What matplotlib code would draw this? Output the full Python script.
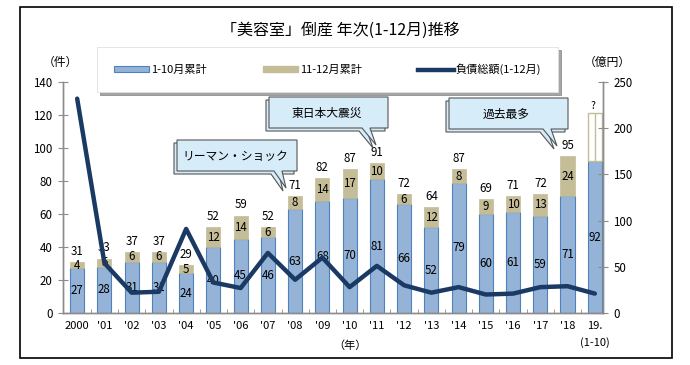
import matplotlib
matplotlib.use('Agg')
import matplotlib.pyplot as plt
from matplotlib.patches import Patch, Polygon, Rectangle
from matplotlib.lines import Line2D
import numpy as np

plt.rcParams['font.family'] = ['Noto Sans CJK JP', 'DejaVu Sans']

# ---- data ----
years = ["2000", "'01", "'02", "'03", "'04", "'05", "'06", "'07", "'08", "'09",
         "'10", "'11", "'12", "'13", "'14", "'15", "'16", "'17", "'18", "19.\n(1-10)"]
jan_oct = [27, 28, 31, 31, 24, 40, 45, 46, 63, 68, 70, 81, 66, 52, 79, 60, 61, 59, 71, 92]
nov_dec = [4, 5, 6, 6, 5, 12, 14, 6, 8, 14, 17, 10, 6, 12, 8, 9, 10, 13, 24]
totals = [31, 33, 37, 37, 29, 52, 59, 52, 71, 82, 87, 91, 72, 64, 87, 69, 71, 72, 95]
debt = [232, 54, 22, 23, 91, 33, 27, 65, 36, 60, 28, 51, 30, 22, 28, 20, 21, 28, 29, 21]
est_2019_total = 121

BLUE = '#95B3D7'
BLUE_EDGE = '#4F81BD'
TAN = '#C4BD97'
NAVY = '#1B3A63'
GRAY = '#8C8C8C'

W, H = 690, 365
def fx(x): return x / W
def fy(y): return 1 - y / H

fig = plt.figure(figsize=(6.9, 3.65), dpi=100)
ax = fig.add_axes([fx(63), fy(313), fx(603) - fx(63), fy(82) - fy(313)])
ax2 = ax.twinx()

x = np.arange(len(years))
bw = 0.52
ax.bar(x, jan_oct, width=bw, color=BLUE, edgecolor=BLUE_EDGE, linewidth=0.8, zorder=2)
n = len(nov_dec)
ax.bar(x[:n], nov_dec, bottom=jan_oct[:n], width=bw, color=TAN, edgecolor=TAN, linewidth=0.5, zorder=2)
# 2019 estimate (outline)
ax.bar(x[-1], est_2019_total - jan_oct[-1], bottom=jan_oct[-1], width=bw,
       facecolor='white', edgecolor=TAN, linewidth=1.0, zorder=2)
ax.vlines(x[-1], jan_oct[-1], est_2019_total, color=TAN, lw=1.0, zorder=2)
ax.text(x[-1] - 0.08, est_2019_total + 1.5, '?', ha='center', va='bottom', fontsize=7.5)

fs = 8.3
for i in x:
    ax.text(i, jan_oct[i] / 2, str(jan_oct[i]), ha='center', va='center', fontsize=fs, zorder=5)
for i in range(n):
    ax.text(i, jan_oct[i] + nov_dec[i] / 2, str(nov_dec[i]), ha='center', va='center', fontsize=fs, zorder=5)
    ax.annotate(str(totals[i]), (i, totals[i]), xytext=(0, 3), textcoords='offset points',
                ha='center', va='bottom', fontsize=fs, zorder=5)

ax2.plot(x, debt, color=NAVY, lw=3.2, solid_joinstyle='round', solid_capstyle='round', zorder=4)
ax2.set_zorder(ax.get_zorder() + 1)
ax2.patch.set_visible(False)
ax.set_zorder(1)

ax.set_xlim(-0.52, 19.3)
ax.set_ylim(0, 140)
ax2.set_ylim(0, 250)
ax.set_yticks(range(0, 141, 20))
ax2.set_yticks(range(0, 251, 50))
ax.set_xticks(x)
ax.set_xticklabels(years, fontsize=8, linespacing=1.6)
ax.set_xticks(np.arange(0.5, 19, 1), minor=True)
ax.tick_params(axis='x', which='major', length=0, pad=6)
ax.tick_params(axis='x', which='minor', length=3, direction='in', color=GRAY)
ax.tick_params(axis='y', direction='inout', length=7, color=GRAY, labelsize=8.3, pad=4)
ax2.tick_params(axis='y', direction='inout', length=7, color=GRAY, labelsize=8.3, pad=4)

for a in (ax, ax2):
    a.spines['top'].set_visible(False)
    for s in ('left', 'right', 'bottom'):
        a.spines[s].set_color(GRAY)
        a.spines[s].set_linewidth(1.0)

# axis unit labels
fig.text(fx(60), fy(62), '（件）', ha='center', va='center', fontsize=8.5)
fig.text(fx(607), fy(62), '（億円）', ha='center', va='center', fontsize=8.5)
ax.text(10, -0.12, '（年）', transform=ax.get_xaxis_transform(), ha='center', va='top', fontsize=8)

# title
fig.text(fx(340), fy(30), '「美容室」倒産 年次(1-12月)推移', ha='center', va='center', fontsize=11.5)

# legend
handles = [Patch(facecolor=BLUE, edgecolor=BLUE_EDGE, linewidth=0.8),
           Patch(facecolor=TAN, edgecolor=TAN),
           Line2D([], [], color=NAVY, lw=3.2)]
labels = ['1-10月累計', '11-12月累計', '負債総額(1-12月)']
leg = fig.legend(handles, labels, ncol=3, loc='lower left',
                 bbox_to_anchor=(fx(97), fy(92), fx(558) - fx(97), 0.01),
                 mode='expand', fontsize=8, frameon=True, fancybox=False, shadow=True,
                 handlelength=3.2, handleheight=0.45, borderpad=1.5, columnspacing=2.0,
                 handletextpad=0.2, borderaxespad=0)
leg.get_frame().set_edgecolor('#E0E0E0')
leg.get_frame().set_linewidth(0.6)

# callouts
def callout(x0, y0, x1, y1, t0, t1, tip, text):
    def pts(dx, dy):
        p = [(x0, y0), (x1, y0), (x1, y1), (t1, y1), tip, (t0, y1), (x0, y1)]
        return [(fx(a + dx), fy(b + dy)) for a, b in p]
    sh = Polygon(pts(-3, 3), closed=True, transform=fig.transFigure,
                 facecolor='#D6ECF8', edgecolor='#555555', lw=0.8, zorder=10)
    mn = Polygon(pts(0, 0), closed=True, transform=fig.transFigure,
                 facecolor='#D6ECF8', edgecolor='#555555', lw=0.8, zorder=11)
    fig.add_artist(sh)
    fig.add_artist(mn)
    fig.text(fx((x0 + x1) / 2 - 2), fy((y0 + y1) / 2 + 1), text, ha='center', va='center',
             fontsize=8.5, zorder=12)

callout(177, 140, 297, 171, 274, 282, (286, 188), 'リーマン・ショック')
callout(269, 97, 388, 128, 362, 370, (376, 145), '東日本大震災')
callout(449, 98, 568, 129, 543, 551, (557, 146), '過去最多')

# outer border
fig.add_artist(Rectangle((fx(20), fy(358)), fx(672) - fx(20), fy(7) - fy(358),
                         transform=fig.transFigure, fill=False, edgecolor='black', lw=1.2))

fig.savefig('out.png', dpi=100)
